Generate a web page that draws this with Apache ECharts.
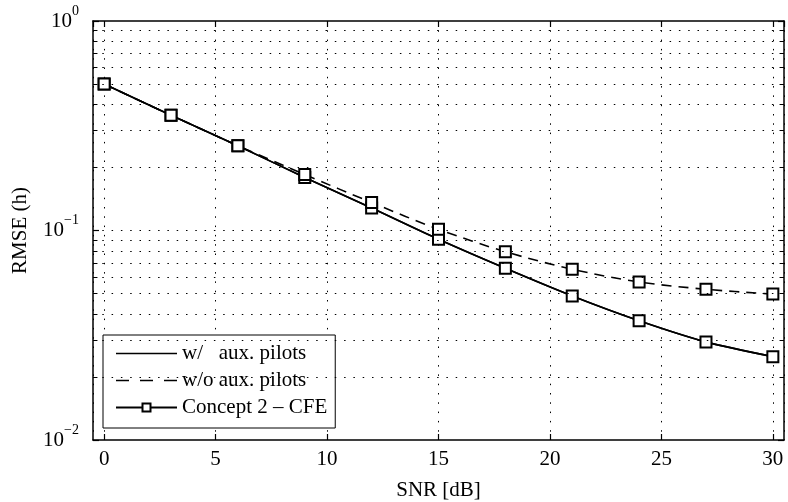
<!DOCTYPE html>
<html>
<head>
<meta charset="utf-8">
<script src="https://cdn.jsdelivr.net/npm/echarts@6/dist/echarts.min.js"></script>
<style>html,body{margin:0;padding:0;background:#fff}#c{width:788px;height:502px}</style>
</head>
<body>
<div id="c"></div>
<script>
// ---- data ----
const snr = [0, 3, 6, 9, 12, 15, 18, 21, 24, 27, 30];
const withAux = [0.50, 0.355, 0.254, 0.179, 0.128, 0.0908, 0.066, 0.0487, 0.0371, 0.0294, 0.0250];
const withoutAux = [0.50, 0.355, 0.254, 0.185, 0.136, 0.1013, 0.0792, 0.0653, 0.0568, 0.0524, 0.0497];
const seriesNames = ['w/   aux. pilots', 'w/o aux. pilots', 'Concept 2 \u2013 CFE'];
const xTitle = 'SNR [dB]';
const yTitle = 'RMSE (h)';
const yGridValues = [0.02,0.03,0.04,0.05,0.06,0.07,0.08,0.09,0.1,0.2,0.3,0.4,0.5,0.6,0.7,0.8,0.9];
const xMin = -0.5, xMax = 30.5;

const FONT = 'Liberation Serif';
const dotted = [1.5, 7.8];
const pairs = (xs, ys) => xs.map((x, i) => [x, ys[i]]);

const gridMarks = yGridValues.map(v => ({ yAxis: v }));
const minorTicks = [];
yGridValues.forEach(v => {
  minorTicks.push([{ coord: [xMin, v] }, { coord: [xMin + 0.2, v] }]);
  minorTicks.push([{ coord: [xMax - 0.2, v] }, { coord: [xMax, v] }]);
});

// legend icons (solid line / dashed line)
const solidIcon = 'path://M0,0L61,0L61,1.6L0,1.6Z';
const dashIcon = 'path://M0,0h13v1.6h-13zM24,0h13v1.6h-13zM48,0h13v1.6h-13z';

const chart = echarts.init(document.getElementById('c'), null, { renderer: 'canvas' });
const yLabelFmt = v => {
  const e = Math.round(Math.log10(v));
  return '{b|10}{s|' + (e < 0 ? '\u2212' + (-e) : e) + '}';
};
chart.setOption({
  animation: false,
  backgroundColor: '#fff',
  textStyle: { fontFamily: FONT, color: '#000' },
  grid: { left: 93, top: 21, right: 4, bottom: 62, containLabel: false, outerBoundsMode: 'none' },
  legend: {
    orient: 'vertical',
    left: 103, top: 335,
    data: [
      { name: seriesNames[0], icon: solidIcon },
      { name: seriesNames[1], icon: dashIcon },
      { name: seriesNames[2] }
    ],
    backgroundColor: '#fff',
    borderColor: '#000', borderWidth: 1, borderRadius: 0,
    padding: [8, 8, 10, 12],
    itemWidth: 61, itemHeight: 10, itemGap: 6,
    textStyle: { fontFamily: FONT, fontSize: 21, color: '#000', lineHeight: 21 },
    selectedMode: false
  },
  xAxis: [{
    type: 'value', min: xMin, max: xMax, splitNumber: 6,
    name: xTitle, nameLocation: 'middle', nameGap: 40,
    nameTextStyle: { fontFamily: FONT, fontSize: 21, color: '#000' },
    axisLine: { onZero: false, lineStyle: { color: '#000', width: 1.5 } },
    axisTick: { inside: true, length: 6, lineStyle: { color: '#000', width: 1.2 } },
    axisLabel: { fontFamily: FONT, fontSize: 21, color: '#000', margin: 9, showMinLabel: false, showMaxLabel: false },
    splitLine: { show: true, lineStyle: { color: '#000', width: 1, type: dotted } }
  }, {
    type: 'value', min: xMin, max: xMax, splitNumber: 6, position: 'top',
    axisLine: { onZero: false, lineStyle: { color: '#000', width: 1.5 } },
    axisTick: { inside: true, length: 6, lineStyle: { color: '#000', width: 1.2 } },
    axisLabel: { show: false }, splitLine: { show: false }
  }],
  yAxis: [{
    type: 'log', logBase: 10, min: 0.01, max: 1,
    name: yTitle, nameLocation: 'middle', nameGap: 62, nameRotate: 90,
    nameTextStyle: { fontFamily: FONT, fontSize: 21, color: '#000' },
    axisLine: { onZero: false, lineStyle: { color: '#000', width: 1.5 } },
    axisTick: { inside: true, length: 6, lineStyle: { color: '#000', width: 1.2 } },
    axisLabel: {
      formatter: yLabelFmt, margin: 14, color: '#000',
      rich: {
        b: { fontFamily: FONT, fontSize: 21, lineHeight: 34, color: '#000' },
        s: { fontFamily: FONT, fontSize: 14, lineHeight: 14, verticalAlign: 'top', color: '#000' }
      }
    },
    splitLine: { show: false }
  }, {
    type: 'log', logBase: 10, min: 0.01, max: 1, position: 'right',
    axisLine: { onZero: false, lineStyle: { color: '#000', width: 1.5 } },
    axisTick: { inside: true, length: 6, lineStyle: { color: '#000', width: 1.2 } },
    axisLabel: { show: false }, splitLine: { show: false }
  }],
  series: [{
    name: seriesNames[0], type: 'line', symbol: 'none', smooth: 0.3,
    data: pairs(snr, withAux), z: 3,
    lineStyle: { color: '#000', width: 1.6, type: 'solid' }, itemStyle: { color: '#000' },
    markLine: {
      silent: true, symbol: 'none', label: { show: false }, animation: false,
      lineStyle: { color: '#000', width: 1, type: dotted },
      data: gridMarks
    }
  }, {
    name: seriesNames[1], type: 'line', symbol: 'none', smooth: 0.3,
    data: pairs(snr, withoutAux), z: 3,
    lineStyle: { color: '#000', width: 1.6, type: [10, 7] }, itemStyle: { color: '#000' },
    markLine: {
      silent: true, symbol: 'none', label: { show: false }, animation: false,
      lineStyle: { color: '#000', width: 1, type: 'solid' },
      data: minorTicks
    }
  }, {
    name: seriesNames[2], type: 'line', symbol: 'emptyRect', symbolSize: 11, smooth: 0.3,
    data: pairs(snr, withAux), z: 4,
    lineStyle: { color: '#000', width: 1.6 },
    itemStyle: { color: '#000', borderWidth: 1.6 }
  }, {
    name: seriesNames[2], type: 'line', symbol: 'emptyRect', symbolSize: 11, smooth: 0.3,
    data: pairs(snr, withoutAux), z: 4,
    lineStyle: { color: '#000', width: 0, opacity: 0 },
    itemStyle: { color: '#000', borderWidth: 1.6 }
  }]
});
</script>
</body>
</html>
